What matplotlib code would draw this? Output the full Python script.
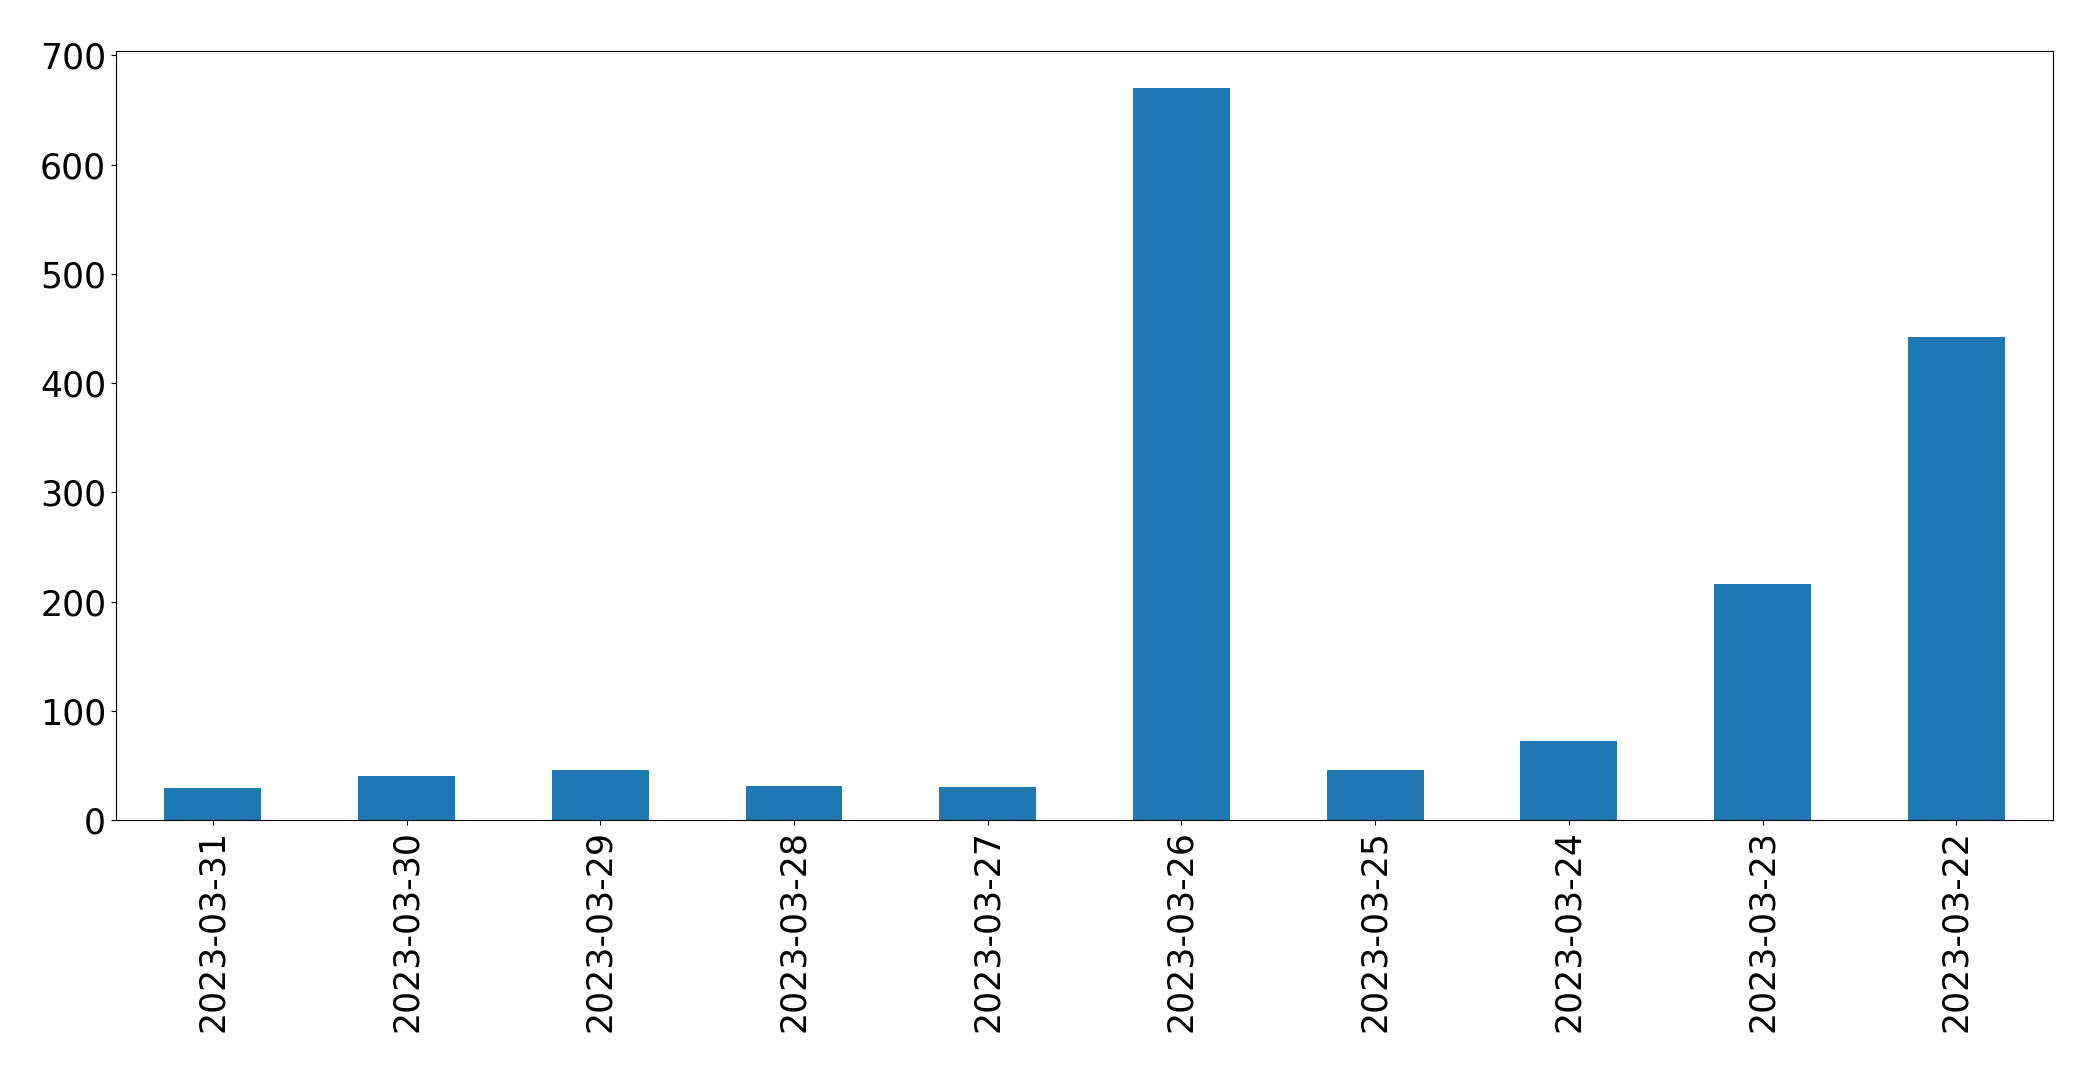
import matplotlib
matplotlib.use('Agg')
from matplotlib import pyplot as plt

# daily counts, newest first (as in the reference)
dates = ['2023-03-31', '2023-03-30', '2023-03-29', '2023-03-28', '2023-03-27',
         '2023-03-26', '2023-03-25', '2023-03-24', '2023-03-23', '2023-03-22']
counts = [29, 40, 46, 31, 30, 670, 46, 72, 216, 442]

fig = plt.figure(figsize=(20.93, 10.72), dpi=100)
ax = fig.add_axes([0.0554, 0.235, 0.9256, 0.717])

x = range(len(dates))
ax.bar(x, counts, width=0.5, color='#1f77b4')
ax.set_xlim(-0.5, len(dates) - 0.5)
ax.set_ylim(0, max(counts) * 1.05)
ax.set_xticks(list(x))
ax.set_xticklabels(dates, rotation=90)
ax.tick_params(labelsize=25)

fig.savefig('out.png', dpi=100)
